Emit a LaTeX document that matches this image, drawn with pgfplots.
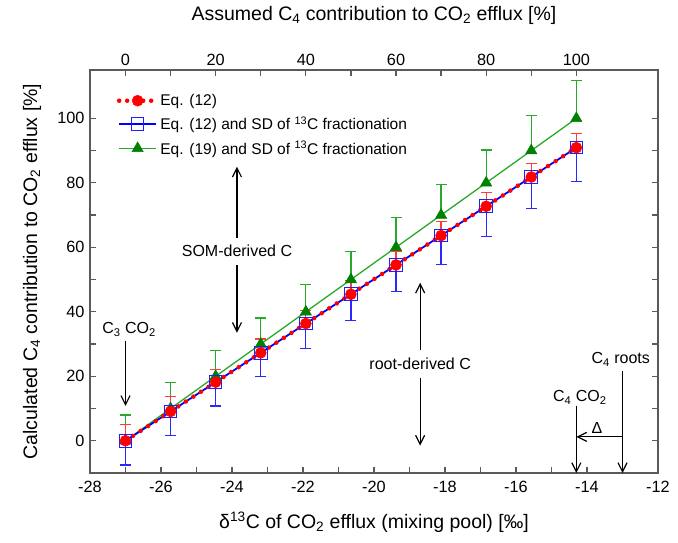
\documentclass[border=0pt]{standalone}
\usepackage{fontspec}
\setmainfont{Liberation Sans}
\usepackage{pgfplots}
\usepackage{pgfplotstable}
\pgfplotsset{compat=1.18}
\usetikzlibrary{arrows.meta}
\definecolor{axgray}{RGB}{90,90,90}
\definecolor{gline}{RGB}{40,170,40}
\definecolor{gmark}{RGB}{0,128,0}
\definecolor{rerr}{RGB}{255,60,60}
\definecolor{berr}{RGB}{40,40,255}
\definecolor{bsq}{RGB}{30,30,255}
\pgfplotstableread{
x g ge r re be
-27.00 0 8.0 0.00 5.0 7.5
-25.73 10 8.0 9.09 4.6 7.5
-24.46 20 8.0 18.18 4.0 7.4
-23.19 30 8.1 27.27 4.3 7.4
-21.92 40 8.4 36.36 4.1 7.7
-20.65 50 8.8 45.45 4.2 8.1
-19.38 60 9.2 54.55 4.3 8.3
-18.11 70 9.6 63.64 4.3 8.9
-16.84 80 10.2 72.73 4.3 9.3
-15.57 90 11.0 81.82 4.2 9.9
-14.30 100 11.8 90.91 4.5 10.4
}\data
\begin{document}
\begin{tikzpicture}[font=\fontsize{16bp}{19bp}\selectfont,
  arr/.style={black, line width=1.2bp, -{Straight Barb[length=9bp,width=9bp,line width=1.2bp]}}]
\path[use as bounding box] (-90bp,-70bp) rectangle (588bp,473bp);
\begin{axis}[at={(0,0)}, anchor=south west, scale only axis,
  width=568bp, height=403bp,
  xmin=-28, xmax=-12, ymin=-10, ymax=115,
  xtick={-28,-26,...,-12}, minor xtick={-27,-25,...,-13},
  ytick={0,20,...,100}, minor ytick={10,30,...,90},
  xtick pos=lower, ytick pos=both,
  tick align=inside, major tick length=6bp, minor tick length=6bp,
  axis line style={axgray, line width=1.3bp},
  every tick/.style={axgray, line width=1.2bp},
  /pgf/number format/assume math mode=true,
  tick label style={font=\fontsize{16.3bp}{19bp}\selectfont},
  xticklabel style={yshift=-5bp},
  yticklabel style={xshift=-2bp},
  label style={font=\fontsize{19.5bp}{23bp}\selectfont},
  xlabel={δ\textsuperscript{13}C of CO\textsubscript{2} efflux (mixing pool) [‰]},
  ylabel={Calculated C\textsubscript{4} contribution to CO\textsubscript{2} efflux [\%]},
  xlabel style={at={(axis description cs:0.5,-0.122)}, anchor=center},
  ylabel style={at={(axis description cs:-0.102,0.5)}, anchor=center},
  clip=false,
  legend style={at={(0.047,0.945)}, anchor=north west, draw=none, fill=none,
    font=\fontsize{15.5bp}{18bp}\selectfont, row sep=6bp, inner sep=0bp},
  legend cell align=left,
  legend image code/.code={\draw[mark repeat=2,mark phase=2] plot coordinates {(0bp,0bp)(18.5bp,0bp)(37bp,0bp)};},
]
% legend entries
\addlegendimage{red, line width=4.5bp, line cap=round, dash pattern=on 0bp off 8bp, mark=*, mark size=5.5bp, mark options={solid, line width=0.5bp, fill=red}}
\addlegendentry{Eq. (12)}
\addlegendimage{blue, line width=1.5bp, mark=square, mark size=6.3bp, mark options={solid, bsq, line width=1bp}}
\addlegendentry{Eq. (12) and SD of \textsuperscript{13}C fractionation}
\addlegendimage{gline, line width=1.3bp, mark=triangle*, mark size=6.5bp, mark options={solid, fill=gmark, draw=gmark, line width=0.5bp}}
\addlegendentry{Eq. (19) and SD of \textsuperscript{13}C fractionation}
% green series
\addplot[gline, line width=1.3bp, mark=triangle*, mark size=6.5bp,
  mark options={fill=gmark, draw=gmark, line width=0.5bp},
  error bars/.cd, y dir=plus, y explicit,
  error bar style={gline, line width=1.2bp},
  error mark options={rotate=90, mark size=5.5bp, gline, line width=1.2bp}]
  table[x=x, y=g, y error=ge] {\data};
% blue series
\addplot[blue, line width=1.8bp, mark=square, mark size=6.3bp,
  mark options={bsq, line width=1bp},
  error bars/.cd, y dir=minus, y explicit,
  error bar style={berr, line width=1.2bp},
  error mark options={rotate=90, mark size=5.5bp, berr, line width=1.2bp}]
  table[x=x, y=r, y error=be] {\data};
% red series
\addplot[red, line width=4.5bp, line cap=round, dash pattern=on 0bp off 9bp,
  mark=*, mark size=5.5bp, mark options={solid, fill=red, line width=0.5bp},
  error bars/.cd, y dir=plus, y explicit,
  error bar style={rerr, line width=1.2bp, solid, line cap=butt},
  error mark options={rotate=90, mark size=5.5bp, rerr, line width=1.2bp, solid}]
  table[x=x, y=r, y error=re] {\data};
% annotations
\node at (axis cs:-23.86,59) {SOM-derived C};
\draw[arr] (axis cs:-23.86,63) -- (axis cs:-23.86,85);
\draw[arr] (axis cs:-23.86,54.5) -- (axis cs:-23.86,33.5);
\node at (axis cs:-18.7,23.8) {root-derived C};
\draw[arr] (axis cs:-18.7,28.2) -- (axis cs:-18.7,49);
\draw[arr] (axis cs:-18.7,19.5) -- (axis cs:-18.7,-1.5);
\node at (axis cs:-26.9,34.5) {C\textsubscript{3} CO\textsubscript{2}};
\draw[arr] (axis cs:-27,31) -- (axis cs:-27,10.8);
\node at (axis cs:-14.2,13.5) {C\textsubscript{4} CO\textsubscript{2}};
\draw[arr] (axis cs:-14.3,10.8) -- (axis cs:-14.3,-10);
\node at (axis cs:-13.05,25.2) {C\textsubscript{4} roots};
\draw[arr] (axis cs:-13,21.6) -- (axis cs:-13,-10);
\draw[arr] (axis cs:-13,1.2) -- (axis cs:-14.3,1.2);
\node at (axis cs:-13.72,3.9) {Δ};
\end{axis}
\begin{axis}[at={(0,0)}, anchor=south west, scale only axis,
  width=568bp, height=403bp,
  xmin=-7.874, xmax=118.11, ymin=-10, ymax=115,
  axis x line*=top, axis y line=none,
  xtick={0,20,...,100}, minor xtick={10,30,...,90},
  tick align=inside, major tick length=6bp, minor tick length=6bp,
  axis line style={axgray, line width=1.3bp},
  every tick/.style={axgray, line width=1.2bp},
  /pgf/number format/assume math mode=true,
  tick label style={font=\fontsize{16.3bp}{19bp}\selectfont},
  xticklabel style={yshift=1bp},
  label style={font=\fontsize{19.5bp}{23bp}\selectfont},
  xlabel={Assumed C\textsubscript{4} contribution to CO\textsubscript{2} efflux [\%]},
  xlabel style={at={(axis description cs:0.5,1.135)}, anchor=center},
]
\addplot[draw=none] coordinates {(0,0)};
\end{axis}
\end{tikzpicture}
\end{document}
